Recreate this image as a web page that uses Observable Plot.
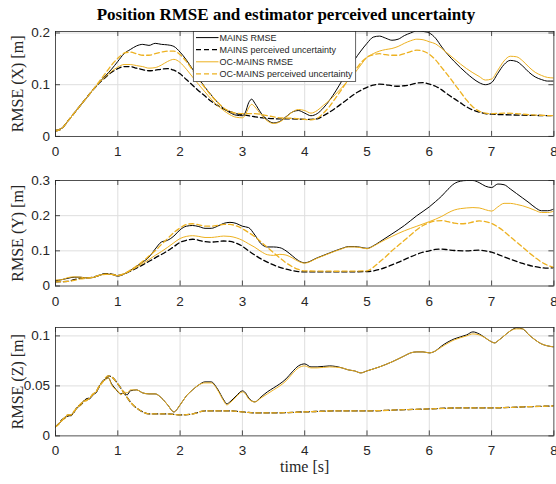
<!DOCTYPE html>
<html><head><meta charset="utf-8">
<script src="https://cdn.jsdelivr.net/npm/d3@7"></script>
<script src="https://cdn.jsdelivr.net/npm/@observablehq/plot@0.6"></script>
<style>
body{margin:0;background:#fff;}
#chart{position:relative;width:556px;height:484px;overflow:hidden;background:#fff}
#chart svg{position:absolute;left:0;overflow:visible;background:transparent}
.title{position:absolute;top:5px;left:8px;width:556px;text-align:center;font:bold 17px "Liberation Serif","Times New Roman",serif;color:#000;line-height:20px;white-space:nowrap}
</style></head><body><div id="chart"><div class="title" id="title">Position RMSE and estimator perceived uncertainty</div></div>
<script>
// ---- data: [time (s), RMSE (m)] ----
const xTicks = [0,1,2,3,4,5,6,7,8];
const seriesNames = ["MAINS RMSE","MAINS perceived uncertainty","OC-MAINS RMSE","OC-MAINS perceived uncertainty"];

const xMainsRmse = [[0,0.012],[0.1,0.016],[0.2,0.03],[0.3,0.045],[0.4,0.06],[0.5,0.075],[0.6,0.09],[0.7,0.104],[0.8,0.117],[0.9,0.13],[1.0,0.145],[1.1,0.16],[1.2,0.168],[1.3,0.175],[1.4,0.178],[1.5,0.176],[1.6,0.18],[1.7,0.178],[1.8,0.177],[1.9,0.174],[2.0,0.163],[2.1,0.148],[2.2,0.13],[2.3,0.112],[2.4,0.095],[2.5,0.08],[2.6,0.066],[2.7,0.054],[2.8,0.046],[2.9,0.041],[3.0,0.04],[3.05,0.047],[3.1,0.065],[3.15,0.072],[3.2,0.064],[3.3,0.045],[3.4,0.032],[3.5,0.026],[3.6,0.029],[3.7,0.038],[3.8,0.047],[3.9,0.05],[4.0,0.045],[4.1,0.04],[4.2,0.044],[4.3,0.055],[4.4,0.07],[4.5,0.088],[4.6,0.108],[4.7,0.128],[4.8,0.148],[4.9,0.165],[5.0,0.18],[5.1,0.192],[5.2,0.194],[5.3,0.19],[5.4,0.186],[5.5,0.188],[5.6,0.195],[5.7,0.2],[5.8,0.204],[5.9,0.203],[6.0,0.2],[6.1,0.19],[6.2,0.173],[6.3,0.158],[6.4,0.145],[6.5,0.133],[6.6,0.122],[6.7,0.112],[6.8,0.104],[6.9,0.1],[7.0,0.104],[7.1,0.122],[7.2,0.139],[7.3,0.147],[7.4,0.145],[7.5,0.136],[7.6,0.124],[7.7,0.115],[7.8,0.11],[7.9,0.107],[8.0,0.107]];
const xMainsPerc = [[0,0.01],[0.1,0.015],[0.2,0.03],[0.3,0.045],[0.4,0.06],[0.5,0.075],[0.6,0.09],[0.7,0.103],[0.8,0.114],[0.9,0.124],[1.0,0.131],[1.1,0.135],[1.2,0.135],[1.3,0.132],[1.4,0.129],[1.5,0.127],[1.6,0.128],[1.7,0.13],[1.8,0.131],[1.9,0.128],[2.0,0.121],[2.1,0.11],[2.2,0.099],[2.3,0.088],[2.4,0.078],[2.5,0.068],[2.6,0.06],[2.7,0.053],[2.8,0.048],[2.9,0.044],[3.0,0.042],[3.2,0.038],[3.4,0.035],[3.6,0.034],[3.8,0.034],[4.0,0.033],[4.1,0.033],[4.2,0.034],[4.3,0.04],[4.4,0.047],[4.5,0.055],[4.6,0.064],[4.7,0.073],[4.8,0.082],[4.9,0.089],[5.0,0.095],[5.1,0.099],[5.2,0.101],[5.3,0.1],[5.4,0.098],[5.5,0.097],[5.6,0.098],[5.7,0.1],[5.8,0.103],[5.9,0.104],[6.0,0.101],[6.1,0.097],[6.2,0.09],[6.3,0.081],[6.4,0.073],[6.5,0.065],[6.6,0.057],[6.7,0.051],[6.8,0.047],[6.9,0.044],[7.0,0.043],[7.2,0.042],[7.5,0.041],[8.0,0.04]];
const xOcRmse = [[0,0.012],[0.1,0.016],[0.2,0.03],[0.3,0.045],[0.4,0.06],[0.5,0.075],[0.6,0.09],[0.7,0.104],[0.8,0.115],[0.9,0.126],[1.0,0.134],[1.1,0.139],[1.2,0.139],[1.3,0.137],[1.4,0.135],[1.5,0.132],[1.6,0.133],[1.7,0.138],[1.8,0.145],[1.9,0.149],[2.0,0.143],[2.1,0.13],[2.2,0.115],[2.3,0.1],[2.4,0.086],[2.5,0.072],[2.6,0.06],[2.7,0.05],[2.8,0.042],[2.9,0.037],[3.0,0.036],[3.05,0.042],[3.1,0.055],[3.15,0.062],[3.2,0.057],[3.3,0.042],[3.4,0.03],[3.5,0.025],[3.6,0.028],[3.7,0.037],[3.8,0.047],[3.9,0.052],[4.0,0.05],[4.1,0.045],[4.2,0.05],[4.3,0.06],[4.4,0.07],[4.5,0.082],[4.6,0.095],[4.7,0.108],[4.8,0.122],[4.9,0.138],[5.0,0.153],[5.1,0.16],[5.2,0.165],[5.3,0.168],[5.4,0.17],[5.5,0.174],[5.6,0.18],[5.7,0.185],[5.8,0.188],[5.9,0.187],[6.0,0.183],[6.1,0.179],[6.2,0.17],[6.3,0.16],[6.4,0.15],[6.5,0.14],[6.6,0.131],[6.7,0.123],[6.8,0.116],[6.9,0.109],[7.0,0.111],[7.1,0.128],[7.2,0.146],[7.3,0.155],[7.4,0.154],[7.5,0.146],[7.6,0.134],[7.7,0.124],[7.8,0.118],[7.9,0.114],[8.0,0.113]];
const xOcPerc = [[0,0.01],[0.1,0.015],[0.2,0.03],[0.3,0.045],[0.4,0.06],[0.5,0.075],[0.6,0.09],[0.7,0.106],[0.8,0.122],[0.9,0.138],[1.0,0.151],[1.1,0.161],[1.2,0.163],[1.3,0.16],[1.4,0.157],[1.5,0.157],[1.6,0.16],[1.7,0.163],[1.8,0.165],[1.9,0.165],[2.0,0.158],[2.1,0.145],[2.2,0.128],[2.3,0.11],[2.4,0.094],[2.5,0.079],[2.6,0.066],[2.7,0.055],[2.8,0.048],[2.9,0.045],[3.0,0.044],[3.2,0.044],[3.4,0.04],[3.6,0.036],[3.8,0.035],[4.0,0.033],[4.1,0.032],[4.2,0.035],[4.3,0.045],[4.4,0.058],[4.5,0.075],[4.6,0.092],[4.7,0.11],[4.8,0.126],[4.9,0.142],[5.0,0.153],[5.1,0.158],[5.2,0.16],[5.3,0.158],[5.4,0.157],[5.5,0.157],[5.6,0.16],[5.7,0.164],[5.8,0.167],[5.9,0.165],[6.0,0.159],[6.1,0.148],[6.2,0.133],[6.3,0.118],[6.4,0.102],[6.5,0.086],[6.6,0.07],[6.7,0.057],[6.8,0.049],[6.9,0.045],[7.0,0.044],[7.2,0.045],[7.4,0.044],[7.6,0.042],[8.0,0.04]];

const yMainsRmse = [[0,0.015],[0.1,0.018],[0.2,0.022],[0.3,0.025],[0.4,0.025],[0.5,0.023],[0.6,0.024],[0.7,0.03],[0.8,0.034],[0.9,0.033],[1.0,0.028],[1.1,0.034],[1.2,0.044],[1.3,0.056],[1.4,0.068],[1.5,0.082],[1.6,0.105],[1.7,0.125],[1.8,0.13],[1.9,0.142],[2.0,0.16],[2.1,0.17],[2.2,0.172],[2.3,0.169],[2.4,0.164],[2.5,0.164],[2.6,0.17],[2.7,0.178],[2.8,0.181],[2.9,0.178],[3.0,0.17],[3.1,0.166],[3.2,0.145],[3.3,0.12],[3.4,0.111],[3.5,0.111],[3.6,0.109],[3.7,0.1],[3.8,0.086],[3.9,0.072],[4.0,0.066],[4.2,0.08],[4.4,0.094],[4.6,0.107],[4.7,0.112],[4.8,0.112],[4.9,0.11],[5.0,0.107],[5.1,0.114],[5.2,0.125],[5.4,0.148],[5.6,0.172],[5.8,0.2],[6.0,0.225],[6.1,0.24],[6.2,0.256],[6.3,0.275],[6.4,0.291],[6.5,0.298],[6.6,0.3],[6.7,0.3],[6.8,0.294],[6.9,0.284],[7.0,0.28],[7.1,0.29],[7.2,0.288],[7.3,0.276],[7.4,0.263],[7.5,0.25],[7.6,0.237],[7.7,0.223],[7.8,0.214],[7.9,0.214],[8.0,0.219]];
const yMainsPerc = [[0,0.012],[0.2,0.013],[0.3,0.018],[0.4,0.022],[0.5,0.023],[0.6,0.025],[0.7,0.03],[0.8,0.035],[0.9,0.034],[1.0,0.03],[1.1,0.034],[1.2,0.042],[1.4,0.06],[1.6,0.08],[1.8,0.1],[1.9,0.112],[2.0,0.124],[2.1,0.13],[2.2,0.133],[2.3,0.13],[2.4,0.126],[2.5,0.125],[2.6,0.126],[2.7,0.128],[2.8,0.127],[2.9,0.122],[3.0,0.113],[3.1,0.1],[3.2,0.088],[3.3,0.077],[3.4,0.068],[3.5,0.06],[3.6,0.053],[3.7,0.048],[3.8,0.044],[3.9,0.041],[4.0,0.04],[4.5,0.04],[5.0,0.041],[5.1,0.043],[5.2,0.047],[5.3,0.053],[5.4,0.06],[5.5,0.067],[5.6,0.075],[5.7,0.083],[5.8,0.09],[5.9,0.096],[6.0,0.1],[6.1,0.104],[6.2,0.105],[6.3,0.103],[6.4,0.101],[6.6,0.1],[6.8,0.102],[6.9,0.1],[7.0,0.096],[7.1,0.09],[7.2,0.083],[7.3,0.076],[7.4,0.07],[7.5,0.064],[7.6,0.059],[7.7,0.055],[7.8,0.052],[7.9,0.051],[8.0,0.052]];
const yOcRmse = [[0,0.017],[0.1,0.018],[0.2,0.024],[0.3,0.026],[0.4,0.025],[0.5,0.023],[0.6,0.024],[0.7,0.03],[0.8,0.034],[0.9,0.033],[1.0,0.029],[1.1,0.034],[1.2,0.043],[1.3,0.053],[1.4,0.064],[1.5,0.075],[1.6,0.087],[1.7,0.098],[1.8,0.11],[1.9,0.123],[2.0,0.135],[2.1,0.141],[2.2,0.143],[2.3,0.141],[2.4,0.138],[2.5,0.138],[2.6,0.14],[2.7,0.142],[2.8,0.141],[2.9,0.137],[3.0,0.13],[3.1,0.12],[3.2,0.11],[3.3,0.098],[3.4,0.089],[3.5,0.087],[3.6,0.09],[3.7,0.088],[3.8,0.08],[3.9,0.07],[4.0,0.065],[4.2,0.079],[4.4,0.093],[4.6,0.106],[4.7,0.111],[4.8,0.111],[4.9,0.109],[5.0,0.106],[5.1,0.113],[5.2,0.123],[5.4,0.141],[5.6,0.157],[5.8,0.17],[6.0,0.183],[6.2,0.198],[6.3,0.208],[6.4,0.216],[6.5,0.22],[6.6,0.222],[6.7,0.223],[6.8,0.222],[6.9,0.217],[7.0,0.213],[7.1,0.225],[7.2,0.235],[7.3,0.235],[7.4,0.232],[7.5,0.228],[7.6,0.222],[7.7,0.215],[7.8,0.209],[7.9,0.209],[8.0,0.213]];
const yOcPerc = [[0,0.012],[0.2,0.013],[0.3,0.016],[0.4,0.02],[0.5,0.022],[0.6,0.025],[0.7,0.03],[0.8,0.033],[0.9,0.033],[1.0,0.03],[1.1,0.035],[1.2,0.045],[1.3,0.057],[1.4,0.07],[1.5,0.085],[1.6,0.1],[1.7,0.118],[1.8,0.135],[1.9,0.152],[2.0,0.165],[2.1,0.175],[2.2,0.177],[2.3,0.174],[2.4,0.17],[2.5,0.17],[2.6,0.172],[2.7,0.175],[2.8,0.175],[2.9,0.171],[3.0,0.163],[3.1,0.152],[3.2,0.14],[3.3,0.125],[3.4,0.11],[3.5,0.095],[3.6,0.08],[3.7,0.066],[3.8,0.055],[3.9,0.047],[4.0,0.043],[4.5,0.042],[5.0,0.043],[5.1,0.053],[5.2,0.068],[5.3,0.083],[5.4,0.1],[5.5,0.115],[5.6,0.13],[5.7,0.145],[5.8,0.16],[5.9,0.172],[6.0,0.18],[6.1,0.185],[6.2,0.186],[6.3,0.183],[6.4,0.179],[6.5,0.177],[6.6,0.178],[6.7,0.182],[6.8,0.185],[6.9,0.183],[7.0,0.178],[7.1,0.168],[7.2,0.155],[7.3,0.14],[7.4,0.125],[7.5,0.11],[7.6,0.095],[7.7,0.081],[7.8,0.068],[7.9,0.059],[8.0,0.053]];

const zMainsRmse = [[0,0.009],[0.05,0.012],[0.1,0.015],[0.15,0.018],[0.2,0.021],[0.25,0.02],[0.3,0.025],[0.35,0.028],[0.4,0.031],[0.45,0.035],[0.5,0.036],[0.55,0.037],[0.6,0.042],[0.65,0.043],[0.7,0.05],[0.75,0.053],[0.8,0.057],[0.85,0.058],[0.9,0.052],[0.95,0.048],[1.0,0.044],[1.05,0.042],[1.1,0.043],[1.15,0.041],[1.2,0.045],[1.3,0.046],[1.4,0.043],[1.5,0.042],[1.6,0.042],[1.7,0.038],[1.8,0.031],[1.9,0.024],[2.0,0.031],[2.1,0.04],[2.2,0.046],[2.3,0.051],[2.4,0.054],[2.5,0.054],[2.6,0.047],[2.7,0.036],[2.75,0.032],[2.8,0.034],[2.9,0.04],[3.0,0.045],[3.05,0.043],[3.1,0.038],[3.2,0.034],[3.3,0.039],[3.4,0.044],[3.5,0.048],[3.6,0.052],[3.7,0.057],[3.8,0.064],[3.9,0.07],[4.0,0.072],[4.1,0.069],[4.2,0.069],[4.4,0.07],[4.6,0.068],[4.7,0.066],[4.8,0.065],[4.9,0.063],[5.0,0.065],[5.2,0.069],[5.4,0.074],[5.6,0.08],[5.7,0.083],[5.8,0.084],[5.9,0.084],[6.0,0.083],[6.1,0.085],[6.2,0.09],[6.4,0.097],[6.6,0.101],[6.7,0.104],[6.8,0.102],[6.9,0.098],[7.0,0.094],[7.05,0.093],[7.1,0.095],[7.2,0.1],[7.3,0.105],[7.4,0.108],[7.5,0.107],[7.6,0.101],[7.7,0.096],[7.8,0.092],[7.9,0.09],[8.0,0.089]];
const zMainsPerc = [[0,0.009],[0.05,0.012],[0.1,0.016],[0.15,0.018],[0.2,0.02],[0.25,0.021],[0.3,0.024],[0.35,0.029],[0.4,0.031],[0.45,0.034],[0.5,0.037],[0.55,0.038],[0.6,0.041],[0.65,0.044],[0.7,0.049],[0.75,0.054],[0.8,0.057],[0.85,0.06],[0.9,0.059],[1.0,0.052],[1.1,0.043],[1.2,0.034],[1.3,0.028],[1.4,0.024],[1.5,0.022],[1.6,0.022],[1.8,0.022],[2.0,0.021],[2.2,0.022],[2.4,0.025],[2.6,0.025],[2.8,0.025],[3.0,0.024],[3.2,0.023],[3.5,0.023],[4.0,0.024],[4.5,0.025],[5.0,0.025],[5.5,0.026],[6.0,0.027],[6.5,0.028],[7.0,0.028],[7.5,0.029],[8.0,0.03]];
const zOcRmse = [[0,0.009],[0.05,0.011],[0.1,0.016],[0.15,0.017],[0.2,0.021],[0.25,0.021],[0.3,0.024],[0.35,0.029],[0.4,0.03],[0.45,0.035],[0.5,0.035],[0.55,0.038],[0.6,0.041],[0.65,0.044],[0.7,0.049],[0.75,0.054],[0.8,0.056],[0.85,0.058],[0.9,0.051],[0.95,0.047],[1.0,0.045],[1.05,0.041],[1.1,0.044],[1.15,0.043],[1.2,0.046],[1.3,0.046],[1.4,0.043],[1.5,0.042],[1.6,0.042],[1.7,0.038],[1.8,0.031],[1.9,0.024],[2.0,0.031],[2.1,0.04],[2.2,0.046],[2.3,0.051],[2.4,0.053],[2.5,0.053],[2.6,0.046],[2.7,0.035],[2.75,0.031],[2.8,0.033],[2.9,0.039],[3.0,0.044],[3.05,0.042],[3.1,0.037],[3.2,0.034],[3.3,0.038],[3.4,0.042],[3.5,0.046],[3.6,0.05],[3.7,0.055],[3.8,0.062],[3.9,0.068],[4.0,0.07],[4.1,0.068],[4.2,0.068],[4.4,0.069],[4.6,0.068],[4.7,0.066],[4.8,0.065],[4.9,0.063],[5.0,0.065],[5.2,0.069],[5.4,0.074],[5.6,0.08],[5.7,0.083],[5.8,0.084],[5.9,0.084],[6.0,0.083],[6.1,0.085],[6.2,0.089],[6.4,0.096],[6.6,0.1],[6.7,0.102],[6.8,0.101],[6.9,0.098],[7.0,0.094],[7.05,0.093],[7.1,0.095],[7.2,0.1],[7.3,0.105],[7.4,0.107],[7.5,0.107],[7.6,0.101],[7.7,0.096],[7.8,0.092],[7.9,0.09],[8.0,0.089]];
const zOcPerc = [[0,0.009],[0.05,0.012],[0.1,0.015],[0.15,0.019],[0.2,0.021],[0.25,0.021],[0.3,0.025],[0.35,0.028],[0.4,0.032],[0.45,0.034],[0.5,0.036],[0.55,0.038],[0.6,0.042],[0.65,0.044],[0.7,0.05],[0.75,0.053],[0.8,0.058],[0.85,0.06],[0.9,0.059],[1.0,0.052],[1.1,0.043],[1.2,0.034],[1.3,0.028],[1.4,0.024],[1.5,0.022],[1.6,0.022],[1.8,0.022],[2.0,0.021],[2.2,0.022],[2.4,0.025],[2.6,0.025],[2.8,0.025],[3.0,0.024],[3.2,0.023],[3.5,0.023],[4.0,0.024],[4.5,0.025],[5.0,0.025],[5.5,0.026],[6.0,0.027],[6.5,0.028],[7.0,0.028],[7.5,0.029],[8.0,0.03]];

const panels = [
  {label:"RMSE (X) [m]", ymax:0.2029, yTicks:[0,0.1,0.2], top:30.8, h:104.9, data:[xMainsRmse,xMainsPerc,xOcRmse,xOcPerc]},
  {label:"RMSE (Y) [m]", ymax:0.3, yTicks:[0,0.1,0.2,0.3], top:179.5, h:105.5, data:[yMainsRmse,yMainsPerc,yOcRmse,yOcPerc]},
  {label:"RMSE (Z) [m]", ymax:0.1084, yTicks:[0,0.05,0.1], top:327.3, h:108.4, data:[zMainsRmse,zMainsPerc,zOcRmse,zOcPerc], xlabel:"time [s]"}
];
// ---- styles ----
const BLACK = "#000000", GOLD = "#EDB120", AX = "#262626", GRID = "#dedede";
const styles = [
  {stroke:BLACK, dash:null, w:1},
  {stroke:BLACK, dash:"5,3", w:1.3},
  {stroke:GOLD, dash:null, w:1},
  {stroke:GOLD, dash:"5,3", w:1.3}
];
const W = 556, ML = 55, MR = 2.6, MT = 5, MB = 45;
const chart = document.getElementById("chart");

panels.forEach((p, i) => {
  const plotW = W - ML - MR;
  const ty = p.ymax * 5 / p.h;     // inner tick length, y units
  const tx = 8 * 5 / plotW;        // inner tick length, x units
  const inner = p.yTicks.filter(v => v > 0 && v < p.ymax - 1e-9);
  const marks = [
    Plot.gridX(xTicks.slice(1, -1), {stroke: GRID, strokeOpacity: 1, strokeWidth: 1}),
    Plot.gridY(inner, {stroke: GRID, strokeOpacity: 1, strokeWidth: 1}),
    ...p.data.map((d, k) => Plot.line(d, {
      x: v => v[0], y: v => v[1], stroke: styles[k].stroke, strokeWidth: styles[k].w,
      strokeDasharray: styles[k].dash, curve: "monotone-x", clip: true
    })),
    Plot.ruleX(xTicks, {x: v => v, y1: 0, y2: ty, stroke: AX, strokeWidth: 0.8}),
    Plot.ruleX(xTicks, {x: v => v, y1: p.ymax, y2: p.ymax - ty, stroke: AX, strokeWidth: 0.8}),
    Plot.ruleY(p.yTicks, {y: v => v, x1: 0, x2: tx, stroke: AX, strokeWidth: 0.8}),
    Plot.ruleY(p.yTicks, {y: v => v, x1: 8, x2: 8 - tx, stroke: AX, strokeWidth: 0.8}),
    Plot.frame({stroke: AX, strokeWidth: 0.8}),
    Plot.axisX(xTicks, {tickSize: 0, tickPadding: 10, fill: AX, fontSize: 13.5, label: null, tickFormat: d3.format("d")}),
    Plot.axisY(p.yTicks, {tickSize: 0, tickPadding: 5.5, fill: AX, fontSize: 13.5, label: null, tickFormat: v => String(v)}),
    Plot.text([p.label], {frameAnchor: "left", textAnchor: "middle", lineAnchor: "middle", rotate: -90, dx: -38, fontFamily: "Liberation Serif, Times New Roman, serif", fontSize: 16, fill: AX})
  ];
  if (p.xlabel) marks.push(Plot.text([p.xlabel], {frameAnchor: "bottom", dy: 31, lineAnchor: "middle", fontFamily: "Liberation Serif, Times New Roman, serif", fontSize: 16, fill: AX}));
  const svg = Plot.plot({
    width: W, height: MT + p.h + MB,
    marginLeft: ML, marginRight: MR, marginTop: MT, marginBottom: MB,
    x: {domain: [0, 8]}, y: {domain: [0, p.ymax]},
    style: {fontFamily: "Liberation Sans, Arial, Helvetica, sans-serif", fontSize: "13.5px", background: "transparent", color: AX},
    marks
  });
  svg.style.top = (p.top - MT) + "px";
  chart.appendChild(svg);
});

// ---- legend (inside the first panel) ----
const lg = d3.select(chart).append("svg")
  .attr("width", W).attr("height", 484)
  .style("top", "0px").style("pointer-events", "none");
lg.append("rect").attr("x", 193.3).attr("y", 31.6).attr("width", 162.4).attr("height", 50)
  .attr("fill", "#fff").attr("stroke", AX).attr("stroke-width", 0.7);
seriesNames.forEach((name, k) => {
  const cy = 37.6 + k * 12.1;
  lg.append("line").attr("x1", 196).attr("x2", 218.5).attr("y1", cy).attr("y2", cy)
    .attr("stroke", styles[k].stroke).attr("stroke-width", styles[k].w)
    .attr("stroke-dasharray", styles[k].dash);
  lg.append("text").attr("x", 219.5).attr("y", cy).attr("dy", "0.35em")
    .attr("font-family", "Liberation Sans, Arial, Helvetica, sans-serif").attr("font-size", 9)
    .attr("fill", AX).text(name);
});
</script>
</body></html>
